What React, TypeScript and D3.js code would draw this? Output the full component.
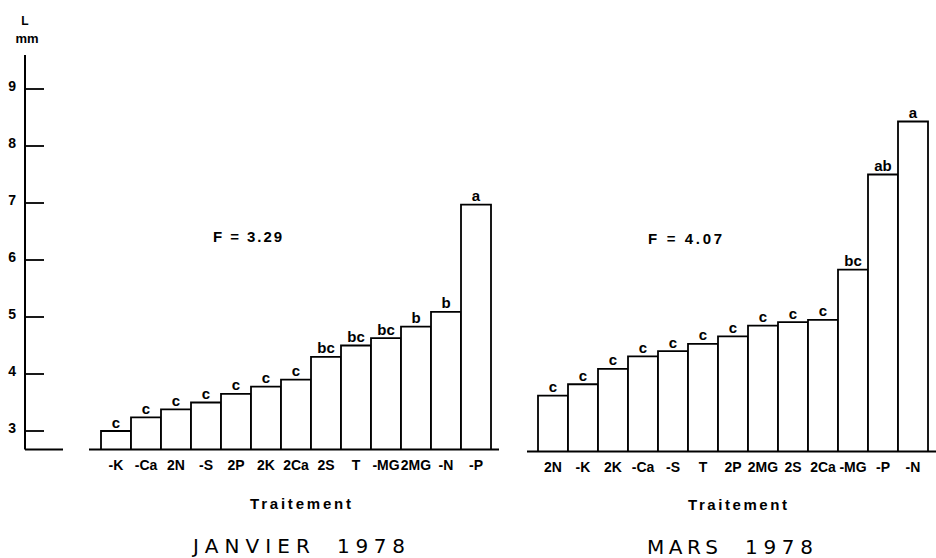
import React from "react";
import * as d3 from "d3";

const janCats = ["-K", "-Ca", "2N", "-S", "2P", "2K", "2Ca", "2S", "T", "-MG", "2MG", "-N", "-P"];
const janVals = [3.0, 3.24, 3.38, 3.5, 3.65, 3.78, 3.9, 4.3, 4.5, 4.63, 4.83, 5.09, 6.97];
const janLetters = ["c", "c", "c", "c", "c", "c", "c", "bc", "bc", "bc", "b", "b", "a"];

const marCats = ["2N", "-K", "2K", "-Ca", "-S", "T", "2P", "2MG", "2S", "2Ca", "-MG", "-P", "-N"];
const marVals = [3.62, 3.82, 4.09, 4.31, 4.4, 4.53, 4.66, 4.85, 4.91, 4.95, 5.83, 7.5, 8.43];
const marLetters = ["c", "c", "c", "c", "c", "c", "c", "c", "c", "c", "bc", "ab", "a"];

const yTicks = [3, 4, 5, 6, 7, 8, 9];
const fJan = "F = 3.29";
const fMar = "F = 4.07";

const FONT = "'Liberation Sans', 'DejaVu Sans', sans-serif";
const TFONT = "'DejaVu Sans', sans-serif";

export default function App() {
  const y = d3.scaleLinear().domain([3, 9]).range([431, 89]);
  const xJan = d3.scaleBand<string>().domain(janCats).range([101, 491]).padding(0);
  const xMar = d3.scaleBand<string>().domain(marCats).range([538, 928]).padding(0);

  const panel = (
    cats: string[],
    vals: number[],
    letters: string[],
    x: d3.ScaleBand<string>,
    baseY: number,
    lineX: [number, number],
    labelY: number,
    key: string
  ) => (
    <g key={key}>
      {cats.map((c, i) => {
        const x0 = x(c)!;
        const top = y(vals[i]);
        const w = x.bandwidth();
        return (
          <g key={c}>
            <path
              d={`M${x0},${baseY}V${top}H${x0 + w}V${baseY}`}
              fill="white"
              stroke="black"
              strokeWidth={1.8}
            />
            <text
              x={x0 + w / 2}
              y={top - 3.5}
              textAnchor="middle"
              fontSize={15}
              fontWeight="bold"
              fontFamily={FONT}
            >
              {letters[i]}
            </text>
            <text
              x={x0 + w / 2}
              y={labelY}
              textAnchor="middle"
              fontSize={14}
              fontWeight="bold"
              fontFamily={FONT}
            >
              {c}
            </text>
          </g>
        );
      })}
      <line x1={lineX[0]} x2={lineX[1]} y1={baseY} y2={baseY} stroke="black" strokeWidth={2} />
    </g>
  );

  return (
    <svg
      width={936}
      height={558}
      style={{ position: "absolute", left: 0, top: 0, background: "white" }}
    >
      <rect x={0} y={0} width={936} height={558} fill="white" />
      <line x1={25} x2={25} y1={55} y2={449.5} stroke="black" strokeWidth={2} />
      <line x1={25} x2={63} y1={449.5} y2={449.5} stroke="black" strokeWidth={2} />
      {yTicks.map((t) => (
        <g key={t}>
          <line x1={25} x2={44} y1={y(t)} y2={y(t)} stroke="black" strokeWidth={1.8} />
          <text
            x={16}
            y={y(t) + 2}
            textAnchor="end"
            fontSize={14}
            fontWeight="bold"
            fontFamily={FONT}
          >
            {t}
          </text>
        </g>
      ))}
      <text x={25} y={25} textAnchor="middle" fontSize={12} fontWeight="bold" fontFamily={FONT}>
        L
      </text>
      <text x={27} y={43} textAnchor="middle" fontSize={13} fontWeight="bold" fontFamily={FONT}>
        mm
      </text>

      {panel(janCats, janVals, janLetters, xJan, 449.5, [89, 499], 470, "jan")}
      {panel(marCats, marVals, marLetters, xMar, 451.5, [527, 936], 472, "mar")}

      <text x={213} y={242} fontSize={15} fontWeight="bold" fontFamily={FONT} textLength={69} lengthAdjust="spacing">
        {fJan}
      </text>
      <text x={648} y={244} fontSize={15} fontWeight="bold" fontFamily={FONT} textLength={74} lengthAdjust="spacing">
        {fMar}
      </text>

      <text x={250} y={509} fontSize={15} fontWeight="bold" fontFamily={FONT} textLength={101} lengthAdjust="spacing">
        Traitement
      </text>
      <text x={688} y={510} fontSize={15} fontWeight="bold" fontFamily={FONT} textLength={99} lengthAdjust="spacing">
        Traitement
      </text>

      <text x={193} y={553} fontSize={20} fontFamily={TFONT} textLength={117} lengthAdjust="spacing">
        JANVIER
      </text>
      <text x={337} y={553} fontSize={20} fontFamily={TFONT} textLength={68} lengthAdjust="spacing">
        1978
      </text>
      <text x={647} y={554} fontSize={20} fontFamily={TFONT} textLength={71} lengthAdjust="spacing">
        MARS
      </text>
      <text x={745} y={554} fontSize={20} fontFamily={TFONT} textLength={68} lengthAdjust="spacing">
        1978
      </text>
    </svg>
  );
}
